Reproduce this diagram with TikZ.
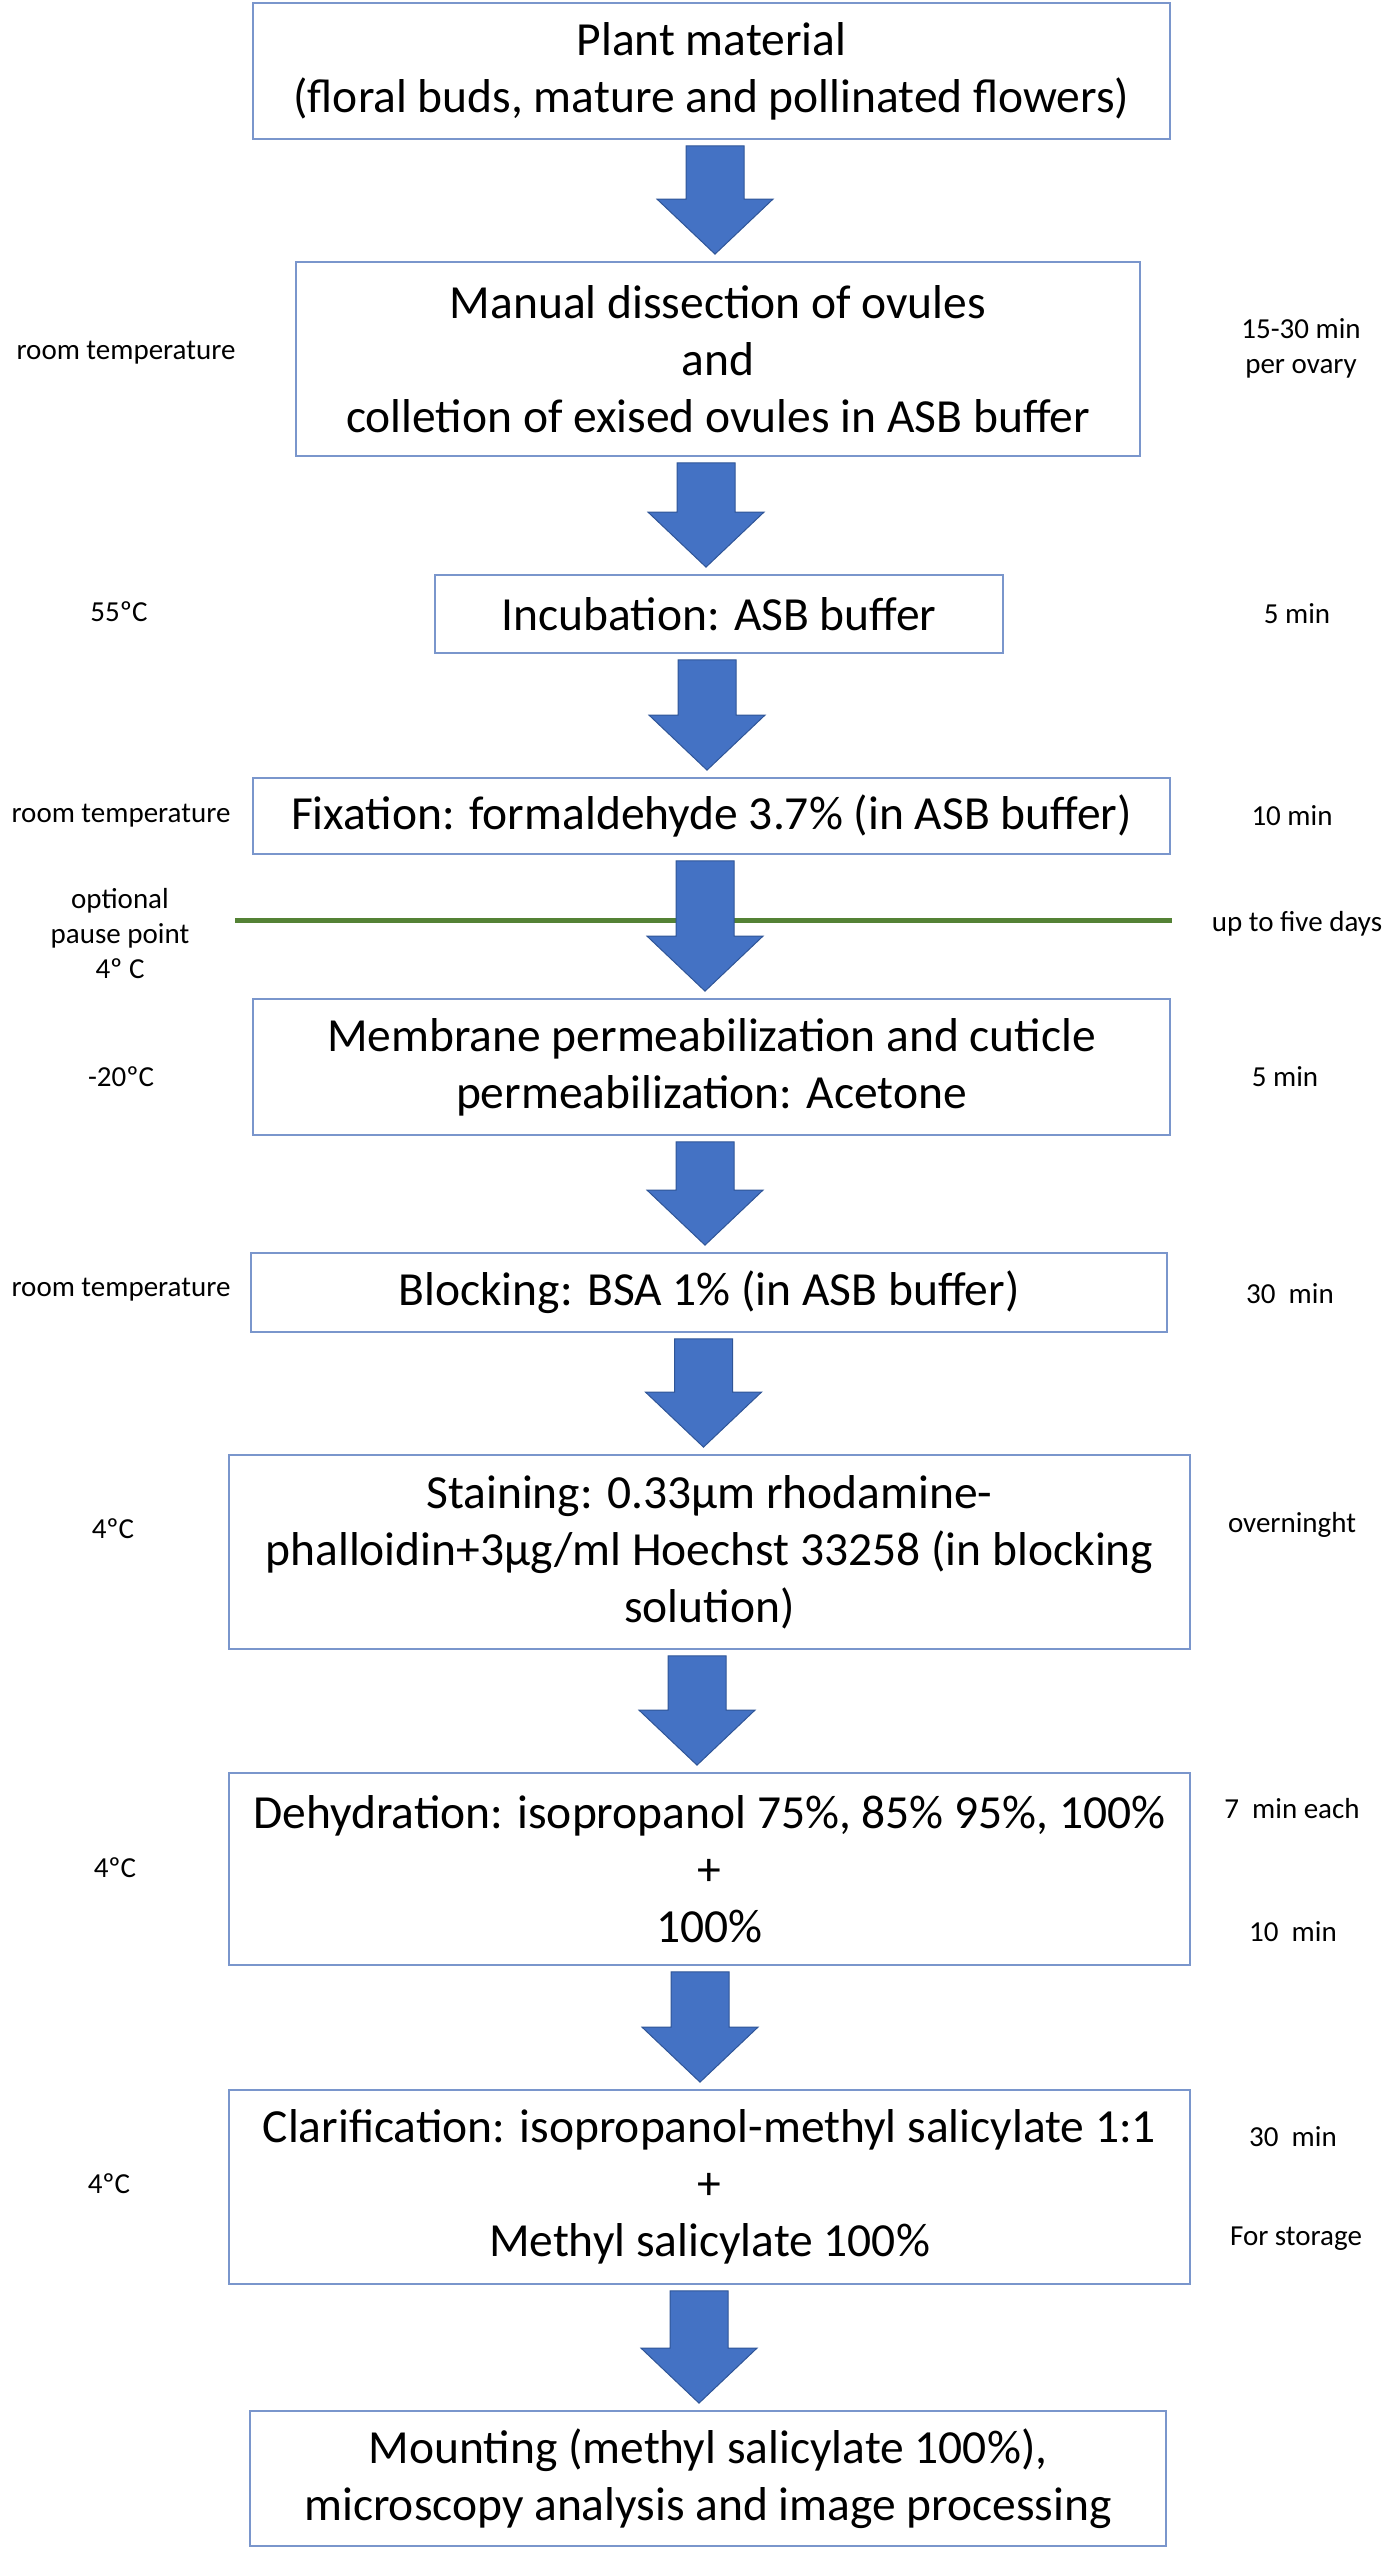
\documentclass[tikz,border=0pt]{standalone}
\usepackage{fontspec}
\setmainfont{Carlito}
\usetikzlibrary{calc}

\definecolor{boxline}{RGB}{122,150,204}
\definecolor{arrowfill}{RGB}{68,114,196}
\definecolor{arrowline}{RGB}{47,85,151}
\definecolor{pausegreen}{RGB}{84,130,53}

\tikzset{
  stage/.style={draw=boxline, line width=0.9pt, fill=white, align=center, inner sep=0pt,
    font=\fontsize{23.75}{28.5}\selectfont},
  side/.style={align=center, inner sep=0pt, font=\fontsize{14.5}{17.5}\selectfont},
  fatarrow/.style={fill=arrowfill, draw=arrowline, line width=0.5pt},
  pauseline/.style={draw=pausegreen, line width=2.5pt}
}

\begin{document}
\begin{tikzpicture}[x=0.5pt, y=-0.5pt]
  \useasboundingbox (0,0) rectangle (1392,2550);

  % steps
  \node[stage, minimum width=458.5pt, minimum height=68pt] (plant) at (711.5,71)
    {Plant material\\(floral buds, mature and pollinated flowers)};
  \node[stage, minimum width=422pt, minimum height=97pt] (dissect) at (718,359)
    {Manual dissection of ovules\\and\\colletion of exised ovules in ASB buffer};
  \node[stage, minimum width=284pt, minimum height=39pt] (incub) at (719,614)
    {Incubation: ASB buffer};
  \node[stage, minimum width=458.5pt, minimum height=38pt] (fix) at (711.5,816)
    {Fixation: formaldehyde 3.7\% (in ASB buffer)};
  \node[stage, minimum width=458.5pt, minimum height=68pt] (perm) at (711.5,1067)
    {Membrane permeabilization and cuticle\\permeabilization: Acetone};
  \node[stage, minimum width=458pt, minimum height=39.5pt] (block) at (709,1292.5)
    {Blocking: BSA 1\% (in ASB buffer)};
  \node[stage, minimum width=480.5pt, minimum height=97pt] (stain) at (709.5,1552)
    {Staining: 0.33µm rhodamine-\\phalloidin+3µg/ml Hoechst 33258 (in blocking\\solution)};
  \node[stage, minimum width=480.5pt, minimum height=96pt] (dehyd) at (709.5,1869)
    {Dehydration: isopropanol 75\%, 85\% 95\%, 100\%\\+\\100\%};
  \node[stage, minimum width=480.5pt, minimum height=97pt] (clarif) at (709.5,2187)
    {Clarification: isopropanol-methyl salicylate 1:1\\+\\Methyl salicylate 100\%};
  \node[stage, minimum width=458pt, minimum height=67.5pt] (mount) at (708,2478.5)
    {Mounting (methyl salicylate 100\%),\\microscopy analysis and image processing};

  % pause point
  \coordinate (pauseL) at (235,920);
  \coordinate (pauseR) at (1172,920);
  \draw[pauseline] (pauseL) -- (pauseR);

  % block arrows
  \foreach \a/\b/\ax in {plant/dissect/715, dissect/incub/706, incub/fix/707, fix/perm/705,
      perm/block/705, block/stain/703.5, stain/dehyd/697, dehyd/clarif/700, clarif/mount/699}
    \filldraw[fatarrow] let \p1=(\a.south), \p2=(\b.north), \p3=(\ax,0) in
      (\x3-14.5pt,\y1-3pt) -- (\x3+14.5pt,\y1-3pt) -- (\x3+14.5pt,\y2+31pt)
      -- (\x3+29pt,\y2+31pt) -- (\x3,\y2+3.5pt) -- (\x3-29pt,\y2+31pt)
      -- (\x3-14.5pt,\y2+31pt) -- cycle;

  % temperatures
  \node[side] (tdissect) at (126,353) {room temperature};
  \node[side] (tincub) at (119,612) {55ºC};
  \node[side] (tfix) at (121,816) {room temperature};
  \node[side] (tpause) at (120,934) {optional\\pause point\\4º C};
  \node[side] (tperm) at (121,1077) {-20ºC};
  \node[side] (tblock) at (121,1290) {room temperature};
  \node[side] (tstain) at (113,1529) {4ºC};
  \node[side] (tdehyd) at (115,1868) {4ºC};
  \node[side] (tclarif) at (109,2184) {4ºC};

  % times
  \node[side] (ddissect) at (1301,348) {15-30 min\\per ovary};
  \node[side] (dincub) at (1297,614) {5 min};
  \node[side] (dfix) at (1292,816) {10 min};
  \node[side] (dpause) at (1297,924) {up to five days};
  \node[side] (dperm) at (1285,1077) {5 min};
  \node[side] (dblock) at (1290,1294) {30\ \ min};
  \node[side] (dstain) at (1292,1525) {overninght};
  \node[side] (ddehyd) at (1292,1809) {7\ \ min each};
  \node[side] (ddehydb) at (1293,1932) {10\ \ min};
  \node[side] (dclarif) at (1293,2137) {30\ \ min};
  \node[side] (dstore) at (1296,2239) {For storage};
\end{tikzpicture}
\end{document}
